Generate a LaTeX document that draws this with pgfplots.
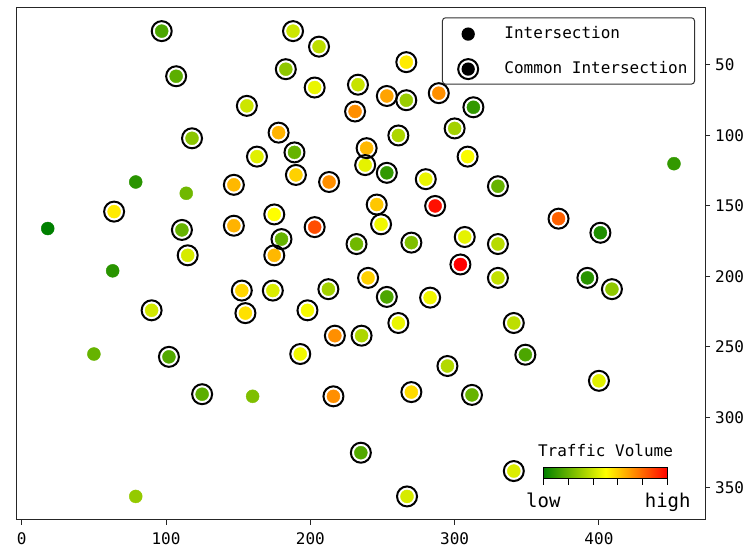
\documentclass[border=0pt]{standalone}
\usepackage{pgfplots}
\pgfplotsset{compat=1.18}
\usepackage{pgfplotstable}
\usepackage{fontspec}
\setmainfont{DejaVu Sans Mono}
\pgfplotstableread{
x y v
97 26 0.15
188 26 0.40
206 37 0.37
107 58 0.18
183 53 0.28
203 66 0.46
233 64 0.39
231 83 0.72
156 79 0.40
118 102 0.27
178 98 0.65
189 112 0.20
163 115 0.44
239 109 0.64
238 121 0.45
190 128 0.59
213 133 0.72
147 135 0.64
64 154 0.54
111 167 0.20
147 164 0.65
175 156 0.50
203 165 0.85
180 173.5 0.20
232 177 0.22
115 185 0.42
175 185 0.64
266.5 48 0.54
253 72 0.68
266.5 75 0.30
289 70 0.72
313 80 0.10
261 100 0.34
300 95 0.32
309 115 0.49
253 126.5 0.10
280 131 0.46
330 136 0.20
246 149 0.61
286.5 150 0.97
249 163 0.47
372 159 0.81
401 169 0.06
270 176 0.25
307 172 0.45
330 177 0.36
304 191.5 1.00
330 201 0.38
392 201 0.08
409 209 0.28
253 214.5 0.15
283 215 0.47
261 233 0.46
341 233 0.37
349 255.5 0.15
295 263.5 0.35
400 274 0.44
270 282 0.57
312 284 0.20
341 338 0.43
267 356 0.42
152.5 210 0.58
174 210 0.43
212.5 209 0.32
240 201 0.59
90 224 0.41
155 226 0.56
198 224 0.48
217 242 0.72
235.5 242 0.34
102 257 0.16
193 255 0.47
125 283.5 0.18
216 285 0.72
235 325 0.16
}\ringpts
\pgfplotstableread{
x y v
79 133 0.08
114 141 0.22
18 166 0.00
63 196 0.08
452 120 0.10
50 255 0.20
160 285 0.25
79 356 0.29
}\plainpts
\pgfplotsset{
  colormap={traffic}{rgb255=(0,128,0) rgb255=(255,255,0) rgb255=(255,0,0)}
}
\begin{document}
\begin{tikzpicture}
\useasboundingbox (0,0) rectangle (748pt,548pt);
\begin{axis}[
  at={(16.7pt,28.3pt)}, anchor=south west,
  width=688.3pt, height=512.4pt, scale only axis,
  xmin=-3.5, xmax=473.5, ymin=9.1, ymax=372.5, y dir=reverse,
  xtick={0,100,200,300,400}, ytick={50,100,...,350},
  xtick pos=left, ytick pos=right, yticklabel pos=right,
  tick align=outside, major tick length=5pt,
  axis line style={black!85, line width=1pt},
  tick style={black!85, line width=1pt},
  /pgf/number format/assume math mode=true,
  ticklabel style={font=\fontsize{16}{16}\selectfont},
  xticklabel style={anchor=base, inner sep=0pt, text depth=0pt, yshift=-20pt},
  yticklabel style={anchor=west, inner sep=0pt, text height=11.66pt, text depth=0pt, xshift=5pt},
  colormap name=traffic, point meta min=0, point meta max=1,
  colorbar horizontal,
  colorbar style={
    at={(parent axis.south west)}, anchor=south west,
    xshift=526.6pt, yshift=49.5pt,
    width=124.4pt, height=11.4pt, scale only axis,
    xtick={0,0.2,0.4,0.6,0.8,1}, xticklabels={low,,,,,high},
    xtick pos=left, xticklabel pos=left, ytick=\empty,
    tick align=outside, major tick length=6pt,
    axis line style={black, line width=1pt},
    tick style={black, line width=1pt},
    xticklabel style={font=\fontsize{19}{19}\selectfont, anchor=base, inner sep=0pt, text depth=0pt, yshift=-22.6pt},
    title={Traffic Volume},
    title style={font=\fontsize{16}{16}\selectfont, at={(0.5,1)}, anchor=south, inner sep=0pt, yshift=4pt},
  },
  legend style={
    at={(0.98547,0.98048)}, anchor=north east,
    draw=black!80, line width=1pt, rounded corners=3pt, fill=white,
    inner xsep=7pt, inner ysep=4pt, row sep=12pt, column sep=17.6pt,
    font=\fontsize{16}{16}\selectfont,
    nodes={inner sep=0pt, text height=12pt, text depth=4pt},
  },
  legend cell align=left,
]
\addplot[scatter, only marks, mark=*, mark size=6.5pt, scatter src=explicit,
  scatter/use mapped color={draw=mapped color, fill=mapped color}, forget plot]
  table[x=x, y=y, meta=v] {\ringpts};
\addplot[scatter, only marks, mark=*, mark size=6.5pt, scatter src=explicit,
  scatter/use mapped color={draw=mapped color, fill=mapped color}, forget plot]
  table[x=x, y=y, meta=v] {\plainpts};
\addplot[only marks, mark=o, mark size=10pt, mark options={draw=black, line width=2pt}, forget plot]
  table[x=x, y=y] {\ringpts};
\addlegendimage{legend image code/.code={
  \path[draw=none, fill=none] (0pt,-10.7pt) rectangle (37.4pt,12.3pt);
  \fill[black, draw=none] (18.7pt,0pt) circle[radius=6.65pt];}}
\addlegendentry{Intersection}
\addlegendimage{legend image code/.code={
  \path[draw=none, fill=none] (0pt,-10.7pt) rectangle (37.4pt,12.3pt);
  \fill[black, draw=none] (18.7pt,0pt) circle[radius=6.65pt];
  \draw[black, fill=none, line width=2pt] (18.7pt,0pt) circle[radius=10pt];}}
\addlegendentry{Common Intersection}
\end{axis}
\end{tikzpicture}
\end{document}
